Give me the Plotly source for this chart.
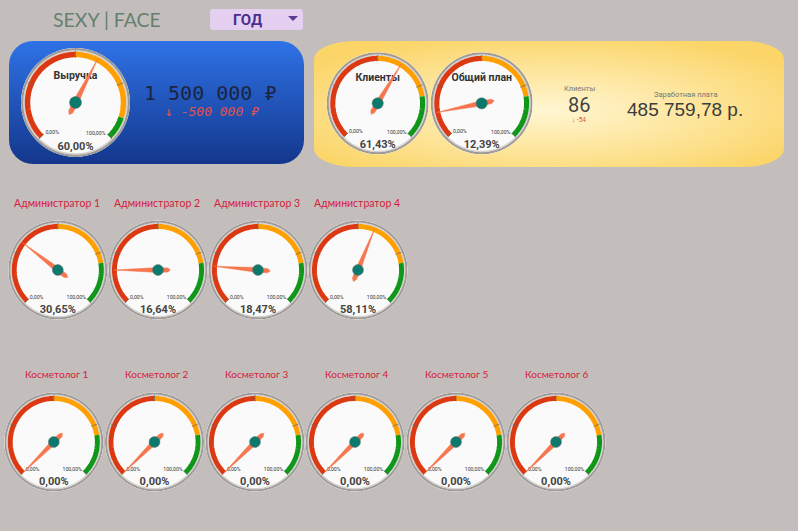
import plotly.graph_objects as go

W, H = 798, 531

# gauge data
names = ['Выручка', 'Клиенты', 'Общий план',
         '', '', '', '',
         '', '', '', '', '', '']
values = [60.00, 61.43, 12.39,
          30.65, 16.64, 18.47, 58.11,
          0.00, 0.00, 0.00, 0.00, 0.00, 0.00]
green_from = [90, 80, 80,
              80, 80, 80, 80,
              80, 80, 80, 80, 80, 80]
centers_x = [75.5, 377.7, 481.7,
             57.8, 158, 258, 358,
             53.8, 154.5, 255, 355, 456, 556]
centers_y = [102.5, 103.3, 103.3,
             270, 270, 270, 270,
             442, 442, 442, 442, 442, 442]
radii = [54.5, 51, 51,
         49.5, 49.5, 49.5, 49.5,
         49.5, 49.5, 49.5, 49.5, 49.5, 49.5]

band_colors = ['#dc3912', '#ff9f00', '#109618']
ticks = [0, 25, 50, 75, 100]

admin_names = ['Администратор 1', 'Администратор 2', 'Администратор 3', 'Администратор 4']
admin_x = [57, 157, 257, 357]
cosmo_names = ['Косметолог 1', 'Косметолог 2', 'Косметолог 3',
               'Косметолог 4', 'Косметолог 5', 'Косметолог 6']
cosmo_x = [57, 157, 257, 357, 457, 557]


def angle(pct):
    return (pct - 50) * 2.7


def fmt(pct):
    return f'{pct:.2f}%'.replace('.', ',')


def px(x):
    return x / W


def py(y):
    return 1 - y / H


def arc(fig, key, radius, deg_from, deg_to, color, width):
    n = int(abs(deg_to - deg_from) / 2) + 1
    thetas = [deg_from + (deg_to - deg_from) * k / n for k in range(n + 1)]
    fig.add_trace(go.Scatterpolar(r=[radius] * len(thetas), theta=thetas, mode='lines',
                                  line=dict(color=color, width=width),
                                  subplot=key, hoverinfo='skip', showlegend=False))


def label(fig, x, y, text, size, color, family='Roboto', **kw):
    fig.add_annotation(x=px(x), y=py(y), xref='paper', yref='paper', text=text, showarrow=False,
                       font=dict(size=size, color=color, family=family), xanchor='center', yanchor='middle', **kw)


background = f'''<svg xmlns="http://www.w3.org/2000/svg" width="{W}" height="{H}" viewBox="0 0 {W} {H}">
<defs>
<linearGradient id="b" x1="0" y1="0" x2="0" y2="1"><stop offset="0" stop-color="#2f72e6"/><stop offset="1" stop-color="#13378c"/></linearGradient>
<radialGradient id="y" cx="0.5" cy="0.55" r="0.62"><stop offset="0" stop-color="#fff6d2"/><stop offset="1" stop-color="#fbd568"/></radialGradient>
</defs>
<rect x="9" y="41" width="295" height="123" rx="24" ry="24" fill="url(#b)"/>
<rect x="314" y="41" width="470" height="126" rx="42" ry="18" fill="url(#y)"/>
<rect x="210" y="9" width="93" height="21" rx="3" ry="3" fill="#e6d0f2"/>
<path d="M288 16 L298 16 L293 21 Z" fill="#5a3a92"/>
</svg>'''.replace('\n', '').replace('#', '%23').replace('"', "'").replace('<', '%3C').replace('>', '%3E')

fig = go.Figure()
layout_polars = {}

for i, (name, val, g, cx, cy, r) in enumerate(zip(names, values, green_from, centers_x, centers_y, radii)):
    key = 'polar' if i == 0 else f'polar{i + 1}'
    layout_polars[key] = dict(
        domain=dict(x=[px(cx - r), px(cx + r)], y=[py(cy + r), py(cy - r)]),
        bgcolor='#fafafa',
        radialaxis=dict(visible=False, range=[0, 1]),
        angularaxis=dict(visible=False, rotation=90, direction='clockwise'),
    )

    # rim
    arc(fig, key, 0.975, 0, 360, '#9e9a98', r * 0.05)
    arc(fig, key, 0.945, 0, 360, '#d4d1cf', r * 0.03)
    # coloured bands
    for a, b, c in zip([0, 50, g], [50, g, 100], band_colors):
        arc(fig, key, 0.88, angle(a), angle(b), c, r * 0.1)
    # tick marks
    tick_r, tick_t = [], []
    for t in ticks:
        tick_r += [0.82, 0.95, None]
        tick_t += [angle(t), angle(t), None]
    fig.add_trace(go.Scatterpolar(r=tick_r, theta=tick_t, mode='lines', line=dict(color='#666666', width=0.7),
                                  subplot=key, hoverinfo='skip', showlegend=False))
    # texts sit under the needle
    title = f'<b>{name}</b>' if name else ''
    fig.add_trace(go.Scatterpolar(r=[0.48, 0.82, 0.7, 0.68], theta=[0, 180, 217.7, 146.8], mode='text',
                                  text=[title, f'<b>{fmt(val)}</b>', '0,00%', '100,00%'],
                                  textfont=dict(size=[10.5, 11, 5.2, 5.2], color=['#333333', '#444444', '#333333', '#333333'],
                                                family='Roboto'),
                                  subplot=key, hoverinfo='skip', showlegend=False))
    # needle
    a = angle(val)
    fig.add_trace(go.Scatterpolar(r=[0.9, 0.05, 0.2, 0.25, 0.2, 0.05, 0.9],
                                  theta=[a, a + 90, a + 168, a + 180, a - 168, a - 90, a],
                                  mode='lines', fill='toself', fillcolor='#f6764f', line=dict(color='#f6764f', width=0.5),
                                  subplot=key, hoverinfo='skip', showlegend=False))
    # hub
    fig.add_trace(go.Scatterpolar(r=[0], theta=[0], mode='markers',
                                  marker=dict(size=r * 0.22, color='#0b7a6c', line=dict(width=0.5, color='#5c6d6a')),
                                  subplot=key, hoverinfo='skip', showlegend=False))

fig.update_layout(
    width=W, height=H,
    margin=dict(l=0, r=0, t=0, b=0),
    paper_bgcolor='#c3bebc',
    images=[dict(source='data:image/svg+xml;utf8,' + background, xref='paper', yref='paper', x=0, y=1,
                 sizex=1, sizey=1, xanchor='left', yanchor='top', sizing='stretch', layer='below')],
    **layout_polars,
)

label(fig, 107, 19, 'SEXY | FACE', 19.5, '#66806f', family='Lato')
label(fig, 247, 20, '<b>ГОД</b>', 15, '#4b2f8e')
label(fig, 210, 93, '1 500 000 ₽', 20, '#1b2540', family='DejaVu Sans Mono')
label(fig, 212, 112, '<i>↓ -500 000 ₽</i>', 13, '#e0534a', family='DejaVu Sans Mono')
label(fig, 579, 89, 'Клиенты', 7.5, '#777777')
label(fig, 579, 105, '86', 20, '#444444')
label(fig, 579, 120, '↓ -54', 6.5, '#e0534a')
label(fig, 685, 95, 'Заработная плата', 7.5, '#777777')
label(fig, 685, 110, '485 759,78 р.', 19, '#3c3c3c', family='Liberation Sans')

for text, x in zip(admin_names, admin_x):
    label(fig, x, 203, text, 10.5, '#d4213d', family='Lato')
for text, x in zip(cosmo_names, cosmo_x):
    label(fig, x, 374, text, 10, '#d4213d', family='Lato')

fig.write_html('out.html', config=dict(displayModeBar=False), post_script="document.body.style.margin='0';")
